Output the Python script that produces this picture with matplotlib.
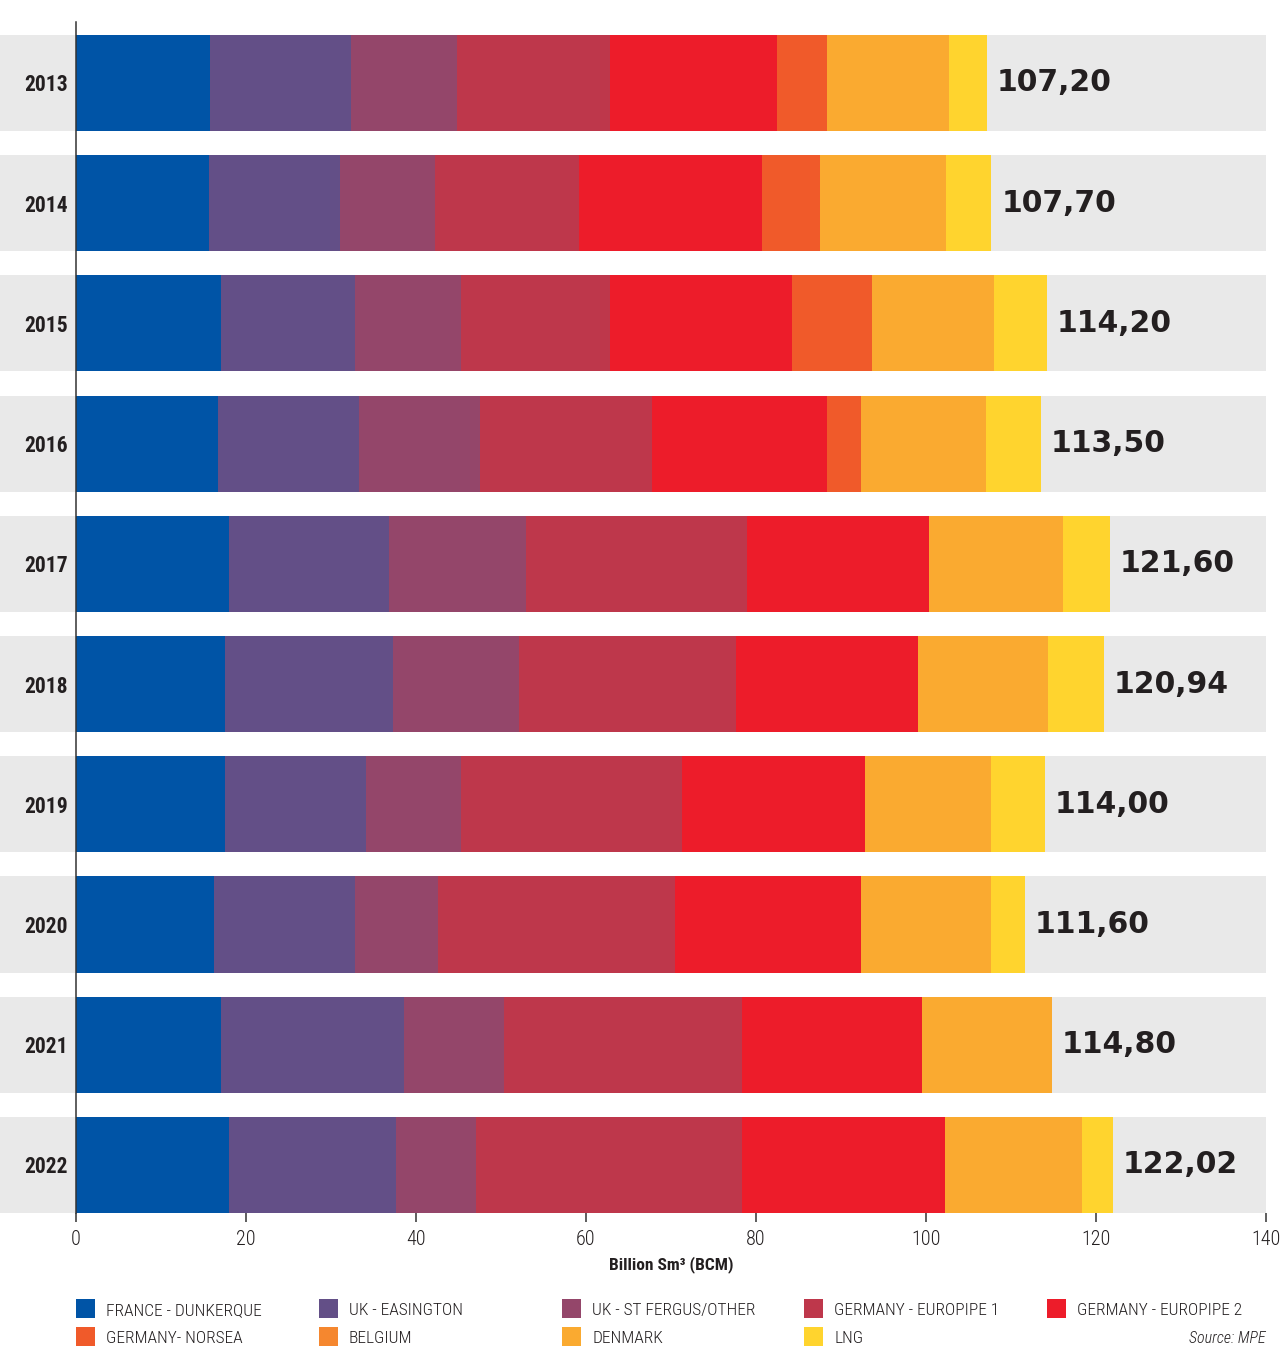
import numpy as np
import matplotlib
matplotlib.use('Agg')
import matplotlib.pyplot as plt
import matplotlib.font_manager as fm
from matplotlib.patches import Rectangle

# gas import data, billion Sm3 per entry point
years = ['2013', '2014', '2015', '2016', '2017', '2018', '2019', '2020', '2021', '2022']
france_dunkerque = [15.8, 15.7, 17.1, 16.7, 18.0, 17.5, 17.5, 16.2, 17.1, 18.0]
uk_easington = [16.6, 15.3, 15.7, 16.6, 18.8, 19.8, 16.6, 16.6, 21.5, 19.6]
uk_st_fergus = [12.4, 11.2, 12.5, 14.2, 16.1, 14.8, 11.2, 9.8, 11.7, 9.5]
germany_europipe1 = [18.0, 17.0, 17.5, 20.3, 26.0, 25.6, 26.0, 27.9, 28.1, 31.3]
germany_europipe2 = [19.7, 21.5, 21.4, 20.5, 21.5, 21.4, 21.5, 21.9, 21.1, 23.8]
germany_norsea = [5.9, 6.8, 9.5, 4.0, 0, 0, 0, 0, 0, 0]
belgium = [0, 0, 0, 0, 0, 0, 0, 0, 0, 0]
denmark = [14.3, 14.8, 14.3, 14.8, 15.7, 15.3, 14.9, 15.3, 15.3, 16.1]
lng = [4.5, 5.4, 6.2, 6.4, 5.5, 6.54, 6.3, 3.9, 0, 3.72]
totals = [107.20, 107.70, 114.20, 113.50, 121.60, 120.94, 114.00, 111.60, 114.80, 122.02]

series_names = ['FRANCE - DUNKERQUE', 'UK - EASINGTON', 'UK - ST FERGUS/OTHER',
                'GERMANY - EUROPIPE 1', 'GERMANY - EUROPIPE 2', 'GERMANY- NORSEA',
                'BELGIUM', 'DENMARK', 'LNG']
series = [france_dunkerque, uk_easington, uk_st_fergus, germany_europipe1,
          germany_europipe2, germany_norsea, belgium, denmark, lng]
colors = ['#0054A6', '#634F87', '#94466A', '#BE374B', '#ED1C2A',
          '#F05A2A', '#F5872F', '#FAAA30', '#FFD42E']

# pick a condensed face if one is around, else plain DejaVu
names = {f.name for f in fm.fontManager.ttflist}
narrow = 'DejaVu Sans'
narrow_scale = 0.85
for cand in ['Roboto Condensed', 'Archivo Narrow', 'PT Sans Narrow', 'Liberation Sans Narrow',
             'Open Sans Condensed']:
    if cand in names:
        narrow = cand
        narrow_scale = 1.0
        break
dark = '#231F20'

W, H = 1280, 1352
fig = plt.figure(figsize=(W / 100, H / 100), dpi=100)
ax = fig.add_axes([76 / W, 1 - 1213 / H, 1190 / W, (1213 - 22) / H])

y = np.arange(len(years))
xmax = 140
pad = 76 / 1190 * xmax

# grey background bands reaching to the left edge
ax.barh(y, xmax + pad, left=-pad, height=0.8, color='#E9E9E9', linewidth=0,
        clip_on=False, zorder=0)

left = np.zeros(len(years))
last = None
for vals, c, name in zip(series, colors, series_names):
    vals = np.array(vals, dtype=float)
    last = ax.barh(y, vals, left=left, height=0.8, color=c, linewidth=0, zorder=2, label=name)
    left += vals

ax.bar_label(last, labels=[f'{t:.2f}'.replace('.', ',') for t in totals], padding=7,
             fontsize=21.5, fontweight='bold', color=dark, family='DejaVu Sans', zorder=3)

ax.set_xlim(0, xmax)
ax.set_ylim(9.4, -0.507)
ax.set_xticks(np.arange(0, 141, 20))
ax.set_yticks(y)
ax.set_yticklabels(years, fontfamily=narrow, fontweight='bold', fontsize=15.5 * narrow_scale,
                   color=dark)
ax.tick_params(axis='y', length=0, pad=6)
ax.tick_params(axis='x', direction='out', length=6.5, width=1.1, color='#333333',
               labelsize=14.5 * narrow_scale, labelcolor=dark, pad=6)
for lbl in ax.get_xticklabels():
    lbl.set_fontfamily(narrow)
    lbl.set_fontweight('light')

for s in ['top', 'right', 'bottom']:
    ax.spines[s].set_visible(False)
ax.spines['left'].set_color('#333333')
ax.spines['left'].set_linewidth(1.1)
ax.spines['left'].set_zorder(4)

ax.set_xlabel('Billion Sm³ (BCM)', fontfamily=narrow, fontweight='bold',
              fontsize=12.5 * narrow_scale, color=dark, labelpad=5)

# legend laid out in a fixed grid
col_x = [76, 319, 562, 804, 1047]
row_base = [1315, 1343]
for i, (name, c) in enumerate(zip(series_names, colors)):
    r, k = divmod(i, 5)
    x0 = col_x[k]
    yb = row_base[r]
    fig.patches.append(Rectangle((x0 / W, 1 - (yb + 3) / H), 19 / W, 19 / H,
                                 transform=fig.transFigure, color=c, linewidth=0))
    fig.text((x0 + 30) / W, 1 - yb / H, name, fontfamily=narrow, fontweight='light',
             fontsize=12.5 * narrow_scale, color=dark, va='baseline', ha='left')

fig.text(1266 / W, 1 - 1343 / H, 'Source: MPE', fontfamily=narrow, fontstyle='italic',
         fontweight='light', fontsize=11.5 * narrow_scale, color=dark, va='baseline', ha='right')

fig.savefig('out.png', dpi=100)
